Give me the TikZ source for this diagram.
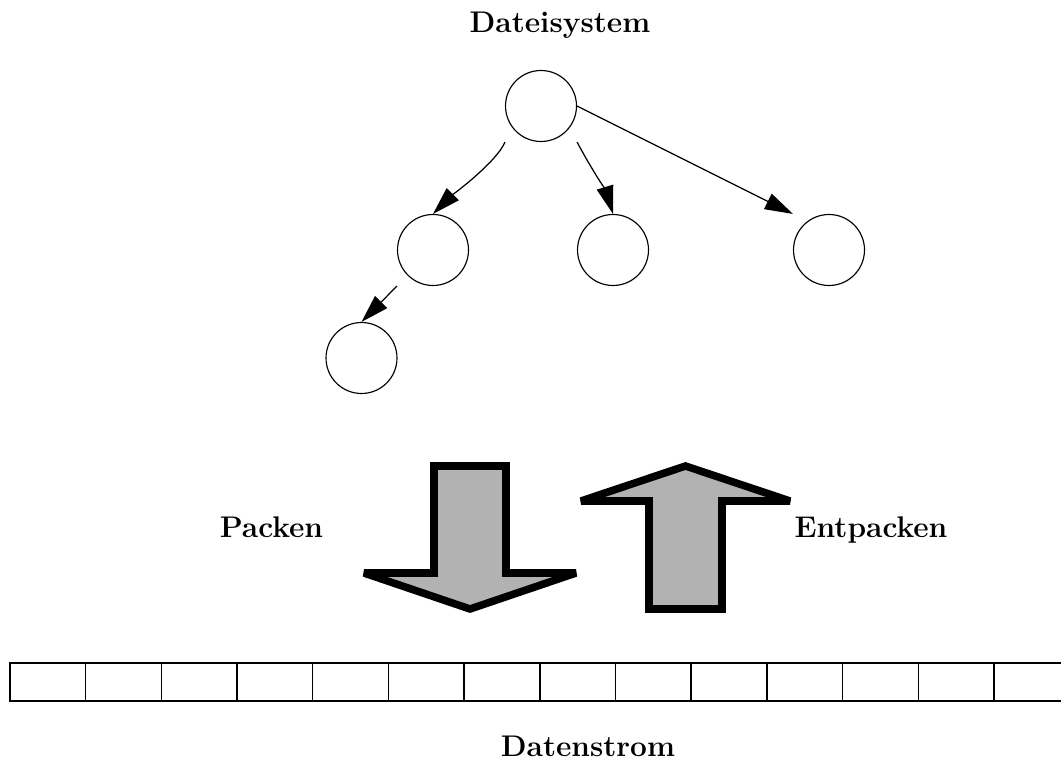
\documentclass[tikz,border=0pt]{standalone}
\usepackage{tikz}
\usetikzlibrary{arrows.meta,positioning}

\begin{document}
\begin{tikzpicture}[x=0.02cm,y=-0.02cm]
  \tikzstyle{every node}=[font=\fontsize{17}{20}\selectfont\bfseries]
  \tikzstyle{titel}=[anchor=base, inner sep=0pt]
  \tikzstyle{knoten}=[draw, circle, line width=0.65pt, minimum size=1.42cm, inner sep=0pt]
  \tikzstyle{kante}=[line width=0.7pt, -{Triangle[length=0.56cm,width=0.34cm]}]
  \tikzstyle{zelle}=[draw, line width=0.8pt, minimum width=1.514cm, minimum height=0.76cm, inner sep=0pt, outer sep=0pt]
  \tikzstyle{block}=[draw, line width=4.3pt, fill=black!30, line join=miter, miter limit=2]
  \useasboundingbox (0,0) rectangle (1061,763);

  \node[titel] (datei) at (560,33) {Dateisystem};
  \node[knoten] (root) at (541,106) {};
  \node[knoten] (l1) at (433,250) {};
  \node[knoten] (m1) at (613,250) {};
  \node[knoten] (r1) at (829,250) {};
  \node[knoten] (l2) at (361.5,358) {};

  \draw[kante] (root.west |- root.south) .. controls +(-8,20) and +(16,-16) .. (l1.north);
  \draw[kante] (root.east |- root.south) .. controls +(10,19) and +(-6,-20) .. (m1.north);
  \draw[kante] (root.east) -- (r1.west |- r1.north);
  \draw[kante] (l1.west |- l1.south) -- (l2.north);

  \node[titel] (packen) at (271.5,537) {Packen};
  \node[titel] (entpacken) at (871,537) {Entpacken};
  \draw[block] (434,466) -- (506,466) -- (506,573) -- (576,573) -- (470,609)
    -- (364,573) -- (434,573) -- cycle;
  \draw[block] (649,609) -- (722,609) -- (722,501) -- (790,501) -- (685.5,466)
    -- (581,501) -- (649,501) -- cycle;

  \node[zelle] (z1) at (47.85,682) {};
  \foreach \i [count=\j from 2] in {1,...,13}
    \node[zelle, right=0pt of z\i] (z\j) {};
  \node[titel] (strom) at (588,756) {Datenstrom};
\end{tikzpicture}
\end{document}
